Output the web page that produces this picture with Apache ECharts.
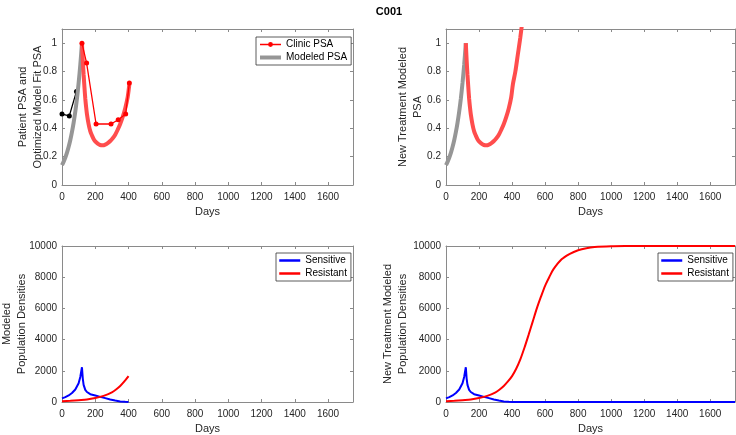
<!DOCTYPE html>
<html>
<head>
<meta charset="utf-8">
<script src="https://cdn.jsdelivr.net/npm/echarts@6/dist/echarts.min.js"></script>
<style>
html,body{margin:0;padding:0;background:#fff;}
#c{width:736px;height:435px;}
</style>
</head>
<body>
<div id="c"></div>
<script>
// ---- data ----
const clinicPreDays = [0, 44, 87];
const clinicPreVals = [0.50, 0.487, 0.66];
const clinicDays = [120, 148, 205, 295, 338, 383, 405];
const clinicVals = [1.0, 0.86, 0.43, 0.43, 0.46, 0.50, 0.72];

const modelPreDays = [0, 10, 20, 30, 40, 50, 60, 70, 80, 90, 100, 110, 120];
const modelPreVals = [0.14, 0.165, 0.194, 0.228, 0.269, 0.317, 0.374, 0.44, 0.518, 0.61, 0.72, 0.846, 1.0];

const modelTxDays = [120, 125, 130, 135, 140, 145, 150, 160, 170, 180, 190, 200, 215, 230, 245, 260, 275, 290, 305, 320, 335, 350, 365, 380, 395, 405, 420, 435, 450, 465, 480];
const modelTxVals = [1.0, 0.88, 0.78, 0.69, 0.61, 0.55, 0.50, 0.43, 0.38, 0.35, 0.325, 0.308, 0.292, 0.282, 0.28, 0.285, 0.295, 0.31, 0.33, 0.355, 0.39, 0.43, 0.48, 0.54, 0.62, 0.71, 0.80, 0.92, 1.04, 1.18, 1.33];

const sensDays = [0, 20, 40, 60, 80, 100, 110, 120, 125, 130, 140, 150, 170, 200, 230, 260, 290, 320, 350, 380, 400, 430, 470, 600, 800, 1000, 1200, 1400, 1600, 1750];
const sensVals = [230, 310, 420, 580, 800, 1200, 1600, 2230, 1500, 1100, 780, 640, 500, 420, 330, 250, 160, 90, 35, 10, 3, 1, 0, 0, 0, 0, 0, 0, 0, 0];

const resDays = [0, 50, 100, 150, 200, 250, 300, 325, 350, 375, 400, 425, 450, 475, 500, 525, 550, 575, 600, 625, 650, 700, 750, 800, 850, 900, 1000, 1100, 1200, 1400, 1600, 1750];
const resVals = [50, 80, 120, 160, 250, 390, 620, 800, 1030, 1320, 1660, 2130, 2730, 3480, 4300, 5150, 6000, 6750, 7450, 8000, 8500, 9150, 9500, 9730, 9860, 9930, 9980, 9995, 10000, 10000, 10000, 10000];

const xTickLabels = ['0', '200', '400', '600', '800', '1000', '1200', '1400', '1600'];
const chartTitle = 'C001';
const yNames = ['Patient PSA and\nOptimized Model Fit PSA', 'New Treatment Modeled\nPSA', 'Modeled\nPopulation Densities', 'New Treatment Modeled\nPopulation Densities'];
const xName = 'Days';

// ---- helpers ----
function pairs(xs, ys, maxX) {
  const out = [];
  for (let i = 0; i < xs.length; i++) {
    if (maxX === undefined || xs[i] <= maxX) out.push([xs[i], ys[i]]);
  }
  return out;
}
const FONT = 'Liberation Sans, Arial, Helvetica, sans-serif';
const AX = '#8a8a8a';
const TXT = '#262626';

const grids = [
  { left: 62, top: 29, width: 291, height: 156 },
  { left: 446, top: 29, width: 289, height: 156 },
  { left: 62, top: 246, width: 291, height: 156 },
  { left: 446, top: 246, width: 289, height: 156 }
];
const yMax = [1.1, 1.1, 10000, 10000];
const yInt = [0.2, 0.2, 2000, 2000];
const yGap = [17, 21, 33, 36];

const xAxes = [], yAxes = [];
grids.forEach((g, i) => {
  const common = {
    gridIndex: i, type: 'value', min: 0, max: 1750, interval: 200,
    splitLine: { show: false },
    axisLine: { show: true, onZero: false, lineStyle: { color: AX, width: 1 } },
    axisTick: { show: true, inside: true, length: 3, lineStyle: { color: AX } }
  };
  xAxes.push(Object.assign({}, common, {
    position: 'bottom',
    name: xName, nameLocation: 'middle', nameGap: 21, nameMoveOverlap: false,
    nameTextStyle: { fontFamily: FONT, fontSize: 11, color: TXT },
    axisLabel: { fontFamily: FONT, fontSize: 10, color: TXT, margin: 7.5,
      formatter: v => (v % 200 === 0 ? xTickLabels[v / 200] || '' : '') }
  }));
  xAxes.push(Object.assign({}, common, { position: 'top', axisLabel: { show: false } }));
  const ycommon = {
    gridIndex: i, type: 'value', min: 0, max: yMax[i], interval: yInt[i],
    splitLine: { show: false },
    axisLine: { show: true, onZero: false, lineStyle: { color: AX, width: 1 } },
    axisTick: { show: true, inside: true, length: 3, lineStyle: { color: AX } }
  };
  yAxes.push(Object.assign({}, ycommon, {
    position: 'left',
    name: yNames[i], nameLocation: 'middle', nameGap: yGap[i], nameRotate: 90, nameMoveOverlap: false,
    nameTextStyle: { fontFamily: FONT, fontSize: 11, color: TXT, lineHeight: 14.5, align: 'center' },
    axisLabel: { fontFamily: FONT, fontSize: 10, color: TXT, margin: 5,
      formatter: v => {
        if (i < 2) { const r = Math.round(v * 10) / 10; return (Math.abs(v - r) < 1e-9 && Math.round(r * 10) % 2 === 0) ? String(r) : ''; }
        return v % 2000 === 0 ? String(v) : '';
      } }
  }));
  yAxes.push(Object.assign({}, ycommon, { position: 'right', axisLabel: { show: false } }));
});

const series = [
  // top-left
  { name: 'Clinic PSA pre', type: 'line', xAxisIndex: 0, yAxisIndex: 0, data: pairs(clinicPreDays, clinicPreVals),
    symbol: 'circle', symbolSize: 5, itemStyle: { color: '#000' }, lineStyle: { color: '#000', width: 1.3 }, z: 3 },
  { name: 'Modeled PSA', type: 'line', xAxisIndex: 0, yAxisIndex: 0, data: pairs(modelPreDays, modelPreVals),
    symbol: 'none', smooth: 0.3, lineStyle: { color: '#969696', width: 4 }, itemStyle: { color: '#969696' }, z: 4 },
  { name: 'Modeled PSA tx', type: 'line', xAxisIndex: 0, yAxisIndex: 0, data: pairs(modelTxDays, modelTxVals, 405),
    symbol: 'none', smooth: 0.3, lineStyle: { color: '#ff4d4d', width: 4 }, itemStyle: { color: '#ff4d4d' }, z: 4 },
  { name: 'Clinic PSA', type: 'line', xAxisIndex: 0, yAxisIndex: 0, data: pairs(clinicDays, clinicVals),
    symbol: 'circle', symbolSize: 5, itemStyle: { color: '#ff0000' }, lineStyle: { color: '#ff0000', width: 1.3 }, z: 5 },
  // top-right
  { name: 'New Modeled PSA pre', type: 'line', xAxisIndex: 2, yAxisIndex: 2, data: pairs(modelPreDays, modelPreVals),
    symbol: 'none', smooth: 0.3, lineStyle: { color: '#969696', width: 4 }, z: 4, clip: true },
  { name: 'New Modeled PSA tx', type: 'line', xAxisIndex: 2, yAxisIndex: 2, data: pairs(modelTxDays, modelTxVals),
    symbol: 'none', smooth: 0.3, lineStyle: { color: '#ff4d4d', width: 4 }, z: 4, clip: true },
  // bottom-left
  { name: 'Sensitive', type: 'line', xAxisIndex: 4, yAxisIndex: 4, data: pairs(sensDays, sensVals, 400),
    symbol: 'none', lineStyle: { color: '#0000ff', width: 2 }, itemStyle: { color: '#0000ff' } },
  { name: 'Resistant', type: 'line', xAxisIndex: 4, yAxisIndex: 4, data: pairs(resDays, resVals, 400),
    symbol: 'none', smooth: 0.3, lineStyle: { color: '#ff0000', width: 2 }, itemStyle: { color: '#ff0000' } },
  // bottom-right
  { name: 'Sensitive', type: 'line', xAxisIndex: 6, yAxisIndex: 6, data: pairs(sensDays, sensVals),
    symbol: 'none', lineStyle: { color: '#0000ff', width: 2 }, itemStyle: { color: '#0000ff' } },
  { name: 'Resistant', type: 'line', xAxisIndex: 6, yAxisIndex: 6, data: pairs(resDays, resVals),
    symbol: 'none', smooth: 0.3, lineStyle: { color: '#ff0000', width: 2 }, itemStyle: { color: '#ff0000' } }
];

const legendCommon = {
  orient: 'vertical', itemWidth: 21, itemHeight: 6, itemGap: 0,
  padding: [1, 4, 1, 2], borderColor: '#333', borderWidth: 0.8, backgroundColor: '#fff',
  selectedMode: false,
  textStyle: { fontFamily: FONT, fontSize: 10, color: '#000', lineHeight: 13 }
};
const noMarker = { opacity: 0 };

const option = {
  animation: false,
  backgroundColor: '#fff',
  title: { text: chartTitle, left: 384, top: 1, textAlign: 'center',
    textStyle: { fontFamily: FONT, fontSize: 11, fontWeight: 'bold', color: '#000' } },
  grid: grids.map(g => Object.assign({ containLabel: false, outerBoundsMode: 'none' }, g)),
  xAxis: xAxes,
  yAxis: yAxes,
  legend: [
    Object.assign({}, legendCommon, { left: 256, top: 37,
      data: [{ name: 'Clinic PSA', lineStyle: { width: 1.5 } },
             { name: 'Modeled PSA', itemStyle: noMarker, lineStyle: { width: 4 } }] }),
    Object.assign({}, legendCommon, { left: 276, top: 253,
      data: [{ name: 'Sensitive', itemStyle: noMarker, lineStyle: { width: 2.5 } },
             { name: 'Resistant', itemStyle: noMarker, lineStyle: { width: 2.5 } }] }),
    Object.assign({}, legendCommon, { left: 658, top: 253,
      data: [{ name: 'Sensitive', itemStyle: noMarker, lineStyle: { width: 2.5 } },
             { name: 'Resistant', itemStyle: noMarker, lineStyle: { width: 2.5 } }] })
  ],
  series: series
};

const chart = echarts.init(document.getElementById('c'), null, { renderer: 'canvas' });
chart.setOption(option);
</script>
</body>
</html>
